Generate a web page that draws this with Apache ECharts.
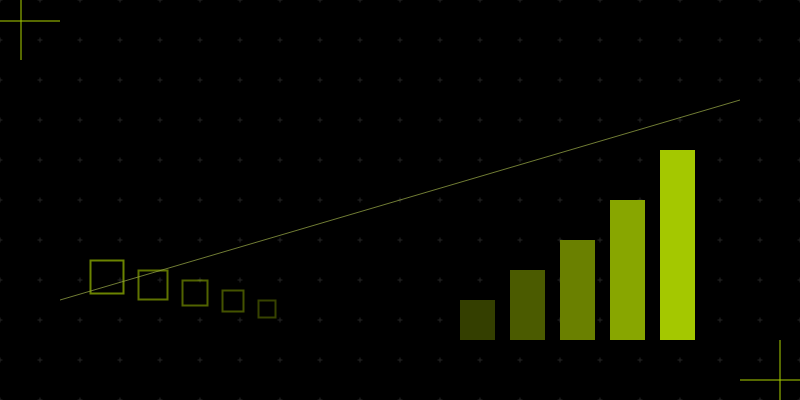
<!DOCTYPE html>
<html>
<head>
<meta charset="utf-8">
<script src="https://cdn.jsdelivr.net/npm/echarts@6/dist/echarts.min.js"></script>
<style>
html,body{margin:0;padding:0;background:#000;}
#chart{width:800px;height:400px;}
</style>
</head>
<body>
<div id="chart"></div>
<script>
// Bar data
var barCategories = ['A', 'B', 'C', 'D', 'E'];
var barValues = [40, 70, 100, 140, 190];
var barColors = ['#343f00', '#4b5b00', '#6a8000', '#88a600', '#a4c800'];

// Square markers (decreasing)
var squareX = [107, 153, 195, 233, 267];
var squareY = [277, 285, 293, 301, 309];
var squareSize = [33, 29, 25, 21, 17];
var squareOpacity = [0.82, 0.72, 0.62, 0.52, 0.42];

// Trend line end points
var trendX = [60, 740];
var trendY = [300, 100];

var chart = echarts.init(document.getElementById('chart'), null, {renderer: 'canvas'});

var dots = [];
for (var gx = 0; gx <= 800; gx += 40) {
  for (var gy = 0; gy <= 400; gy += 40) {
    dots.push([gx, gy]);
  }
}

var squares = squareX.map(function (x, i) {
  return {
    value: [x, squareY[i]],
    symbolSize: squareSize[i],
    itemStyle: {
      color: 'rgba(0,0,0,0)',
      borderColor: 'rgba(164,200,0,' + squareOpacity[i] + ')',
      borderWidth: 2
    }
  };
});

var bars = barValues.map(function (v, i) {
  return { value: v, itemStyle: { color: barColors[i] } };
});

var accent = 'rgba(164,200,0,0.7)';

chart.setOption({
  backgroundColor: '#000',
  animation: false,
  grid: [
    { left: 0, right: 0, top: 0, bottom: 0 },
    { left: 452.5, width: 250, top: 140, height: 200 }
  ],
  xAxis: [
    { type: 'value', gridIndex: 0, min: 0, max: 800, show: false },
    { type: 'category', gridIndex: 1, data: barCategories, show: false }
  ],
  yAxis: [
    { type: 'value', gridIndex: 0, min: 0, max: 400, inverse: true, show: false },
    { type: 'value', gridIndex: 1, min: 0, max: 200, show: false }
  ],
  series: [
    {
      type: 'scatter', xAxisIndex: 0, yAxisIndex: 0, silent: true, z: 1,
      symbol: 'path://M2,0 L3,0 L3,2 L5,2 L5,3 L3,3 L3,5 L2,5 L2,3 L0,3 L0,2 L2,2 Z',
      symbolSize: 5,
      itemStyle: { color: '#303030' },
      data: dots
    },
    {
      type: 'bar', xAxisIndex: 1, yAxisIndex: 1, barWidth: 35, z: 2,
      data: bars
    },
    {
      type: 'scatter', xAxisIndex: 0, yAxisIndex: 0, symbol: 'rect', z: 3,
      data: squares
    },
    {
      type: 'line', xAxisIndex: 0, yAxisIndex: 0, symbol: 'none', z: 4,
      lineStyle: { color: 'rgba(150,165,70,0.75)', width: 1 },
      data: [[trendX[0], trendY[0]], [trendX[1], trendY[1]]]
    }
  ],
  graphic: [
    { type: 'line', shape: { x1: 0, y1: 21, x2: 60, y2: 21 }, style: { stroke: accent, lineWidth: 1.5 } },
    { type: 'line', shape: { x1: 21, y1: 0, x2: 21, y2: 60 }, style: { stroke: accent, lineWidth: 1.5 } },
    { type: 'line', shape: { x1: 740, y1: 380, x2: 800, y2: 380 }, style: { stroke: accent, lineWidth: 1.5 } },
    { type: 'line', shape: { x1: 780, y1: 340, x2: 780, y2: 400 }, style: { stroke: accent, lineWidth: 1.5 } }
  ]
});
</script>
</body>
</html>
